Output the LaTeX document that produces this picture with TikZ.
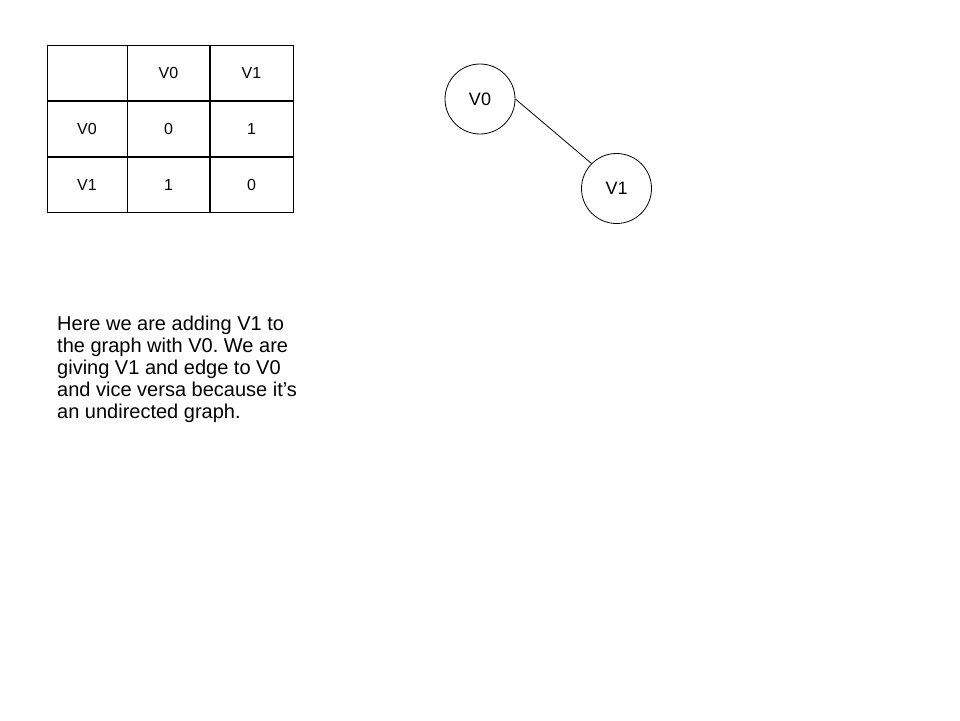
\documentclass[tikz,border=0pt]{standalone}
\usepackage{fontspec}
\setmainfont{Liberation Sans}
\frenchspacing
\begin{document}
\begin{tikzpicture}[x=1pt,y=-1pt,
  celltext/.style={font=\fontsize{16}{19}\selectfont, inner sep=0pt},
  vertex/.style={draw, circle, minimum size=70pt, inner sep=0pt, line width=0.8pt, font=\fontsize{18}{21}\selectfont},
  thin grid/.style={line width=1pt},
  thick grid/.style={line width=2pt}]
\useasboundingbox (0,0) rectangle (960,720);
% table
\draw[thin grid] (47,45) rectangle (293,212);
\draw[thin grid] (127,45) -- (127,212);
\draw[thick grid] (210,45) -- (210,212);
\draw[thick grid] (47,101) -- (293,101);
\draw[thick grid] (47,157) -- (293,157);
\node[celltext] (h0) at (168.5,73) {V0};
\node[celltext] (h1) at (251.5,73) {V1};
\node[celltext] (r0) at (87,129) {V0};
\node[celltext] (r1) at (87,184.5) {V1};
\node[celltext] (c00) at (168.5,129) {0};
\node[celltext] (c01) at (251.5,129) {1};
\node[celltext] (c10) at (168.5,184.5) {1};
\node[celltext] (c11) at (251.5,184.5) {0};
% graph
\node[vertex] (V0) at (480,99) {\raisebox{-2pt}{V0}};
\node[vertex] (V1) at (616.5,188.5) {\raisebox{-1pt}{V1}};
\draw[line width=0.8pt] (V0.east) -- (V1.north west);
% description
\node[anchor=north west, inner sep=0pt, align=left, font=\fontsize{20}{22}\selectfont] (desc) at (57,316)
 {Here we are adding V1 to\\the graph with V0. We are\\giving V1 and edge to V0\\and vice versa because it’s\\an undirected graph.};
\end{tikzpicture}
\end{document}
